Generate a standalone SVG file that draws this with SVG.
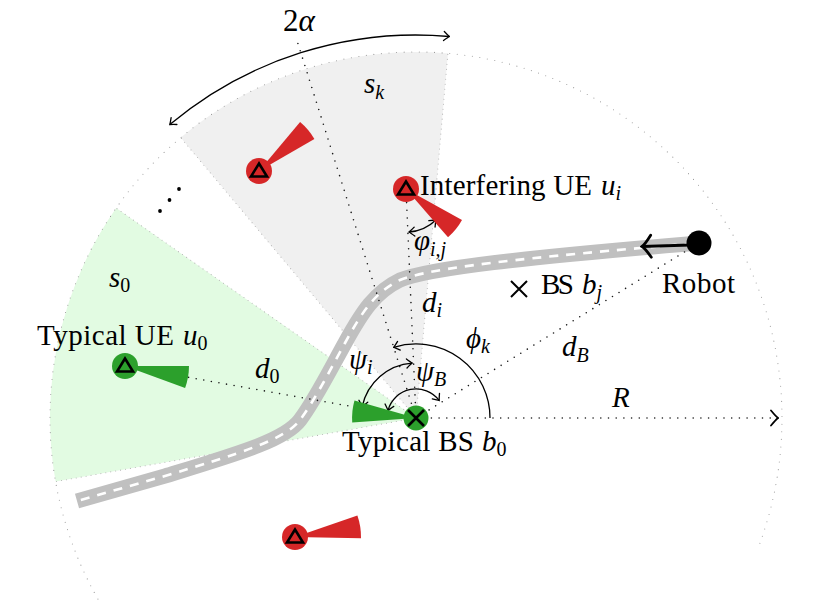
<svg xmlns="http://www.w3.org/2000/svg" width="831" height="603" viewBox="0 0 831 603">
<style>
.t{font-family:"Liberation Serif","DejaVu Serif",serif;font-size:29px;fill:#000}
.m{font-style:italic}
.sub{font-size:20px;font-style:normal}
.subm{font-size:20px;font-style:italic}
.dot{fill:none;stroke:#1a1a1a;stroke-width:1.6;stroke-linecap:round;stroke-dasharray:0 7.7}
.gdot{fill:none;stroke:#9a9a9a;stroke-width:1.1;stroke-linecap:round;stroke-dasharray:0 7.6}
.sdot{fill:none;stroke:#b4b4b4;stroke-width:1.1;stroke-linecap:round;stroke-dasharray:0 5}
.arc{fill:none;stroke:#000;stroke-width:1.3}
.red{fill:#d62728}
.grn{fill:#2ca02c}
.tri{fill:none;stroke:#000;stroke-width:2.6;stroke-linejoin:miter}
.cross{stroke:#000;stroke-width:2.6;stroke-linecap:butt}
</style>
<defs>
<marker id="ah" viewBox="-7 -6 8 12" refX="0" refY="0" markerWidth="8" markerHeight="12" markerUnits="userSpaceOnUse" orient="auto-start-reverse">
<path d="M -5.5 -4.5 Q -1.5 -1 0 0 Q -1.5 1 -5.5 4.5" fill="none" stroke="#000" stroke-width="1.3" stroke-linecap="round"/>
</marker>
<marker id="ahR" viewBox="-9 -9 10 18" refX="0" refY="0" markerWidth="10" markerHeight="18" markerUnits="userSpaceOnUse" orient="auto">
<path d="M -7 -7.5 Q -2 -1.5 0 0 Q -2 1.5 -7 7.5" fill="none" stroke="#000" stroke-width="1.8" stroke-linecap="round"/>
</marker>
<marker id="ahB" viewBox="-12 -13 14 26" refX="0" refY="0" markerWidth="14" markerHeight="26" markerUnits="userSpaceOnUse" orient="auto">
<path d="M -9 -11 Q -3 -2 0 0 Q -3 2 -9 11" fill="none" stroke="#000" stroke-width="2.8" stroke-linecap="round"/>
</marker>
</defs>

<g id="sectors">
<path id="sector-s0" d="M 416 418 L 116.2 208.1 A 366 366 0 0 0 55.6 481.6 Z" fill="#e2fbe2"/>
<path id="sector-sk" d="M 416 418 L 447.9 53.4 A 366 366 0 0 0 180.7 137.6 Z" fill="#f0f0f0"/>
<path class="sdot" d="M 416 418 L 116.2 208.1 M 416 418 L 55.6 481.6 M 416 418 L 447.9 53.4 M 416 418 L 180.7 137.6"/>
<path id="cell-boundary" class="gdot" d="M 759.9 543.2 A 366 366 0 1 0 116.2 627.9"/>
</g>

<g id="road">
<path d="M 77 501 L 165 476 C 240 453 285 440 300 420 C 315 400 330 370 345 343 C 362 312 375 292 400 280 C 430 268 520 258 699 243" fill="none" stroke="#c0c0c0" stroke-width="15"/>
<path d="M 77 501 L 165 476 C 240 453 285 440 300 420 C 315 400 330 370 345 343 C 362 312 375 292 400 280 C 430 268 520 258 699 243" fill="none" stroke="#ffffff" stroke-width="2.6" stroke-dasharray="9 8" stroke-dashoffset="-4"/>
</g>

<g id="connectors">
<path class="dot" d="M 416 418 L 295.7 36.5"/>
<path class="dot" d="M 416 418 L 406 189"/>
<path class="dot" d="M 416 418 L 125 366"/>
<path class="dot" d="M 416 418 L 699 243"/>
<path class="dot" d="M 416 418 L 778 418" marker-end="url(#ahR)"/>
<path class="arc" d="M 169.8 124.6 A 383 383 0 0 1 449.4 36.5" marker-start="url(#ah)" marker-end="url(#ah)"/>
<path class="arc" d="M 490 418 A 74 74 0 0 0 393.7 347.4" marker-end="url(#ah)"/>
<path class="arc" d="M 412.2 363.1 A 55 55 0 0 0 362.2 406.6" marker-start="url(#ah)" marker-end="url(#ah)"/>
<path class="arc" d="M 439.2 400.5 A 29 29 0 0 0 388.0 410.5" marker-start="url(#ah)" marker-end="url(#ah)"/>
<path class="arc" d="M 409 232 A 43 43 0 0 0 435.9 220" marker-start="url(#ah)" marker-end="url(#ah)"/>
</g>

<g id="ue-k">
<path class="red" d="M 259 171 L 300.1 122 A 64 64 0 0 1 314.4 139 Z"/>
<circle class="red" cx="259" cy="171" r="13"/>
<path class="tri" d="M 259 163.5 L 267 176.5 L 251 176.5 Z"/>
</g>

<g id="ue-interfering">
<path class="red" d="M 406 189 L 462 220 A 64 64 0 0 1 448 237.3 Z"/>
<circle class="red" cx="406" cy="189" r="13"/>
<path class="tri" d="M 406 181.5 L 414 194.5 L 398 194.5 Z"/>
</g>

<g id="ue-bottom">
<path class="red" d="M 295 537 L 357.4 515.5 A 66 66 0 0 1 361 538.2 Z"/>
<circle class="red" cx="295" cy="537" r="13"/>
<path class="tri" d="M 295 529.5 L 303 542.5 L 287 542.5 Z"/>
</g>

<g id="ue-typical">
<path class="grn" d="M 125 366 L 189 366 A 64 64 0 0 1 185.1 387.9 Z"/>
<circle class="grn" cx="125" cy="366" r="13"/>
<path class="tri" d="M 125 358.5 L 133 371.5 L 117 371.5 Z"/>
</g>

<g id="bs-typical">
<path class="grn" d="M 416 418 L 352.2 422.5 A 64 64 0 0 1 354.5 400.4 Z"/>
<circle class="grn" cx="416" cy="418" r="12.5"/>
<path class="cross" d="M 408 410 L 424 426 M 424 410 L 408 426"/>
</g>

<g id="bs-j">
<path class="cross" d="M 511 281 L 527 297 M 527 281 L 511 297" style="stroke-width:2"/>
</g>

<g id="robot">
<path d="M 690 245 L 642 246.5" fill="none" stroke="#000" stroke-width="2.8" marker-end="url(#ahB)"/>
<circle cx="699" cy="243" r="12.5" fill="#000"/>
</g>

<g id="ellipsis">
<circle cx="160" cy="211" r="1.9" fill="#000"/>
<circle cx="169.5" cy="200" r="1.9" fill="#000"/>
<circle cx="179" cy="189" r="1.9" fill="#000"/>
</g>

<g id="labels">
<text class="t" x="283" y="31" style="font-size:31px">2<tspan class="m">α</tspan></text>
<text class="t m" x="364" y="93">s<tspan class="subm" dy="6">k</tspan></text>
<text class="t m" x="109" y="287">s<tspan class="sub" dy="5">0</tspan></text>
<text class="t" x="420" y="195" textLength="172" lengthAdjust="spacing">Interfering UE</text>
<text class="t m" x="601" y="195">u<tspan class="subm" dy="5">i</tspan></text>
<text class="t" x="37" y="345" textLength="137" lengthAdjust="spacing">Typical UE</text>
<text class="t m" x="183" y="345">u<tspan class="sub" dy="5">0</tspan></text>
<text class="t" x="342" y="451" textLength="132" lengthAdjust="spacing">Typical BS</text>
<text class="t m" x="482" y="451">b<tspan class="sub" dy="5">0</tspan></text>
<text class="t" x="541" y="294" textLength="33" lengthAdjust="spacing">BS</text>
<text class="t m" x="582" y="294">b<tspan class="subm" dy="5">j</tspan></text>
<text class="t" x="662" y="293" textLength="73" lengthAdjust="spacing">Robot</text>
<text class="t m" x="414" y="250">φ<tspan class="subm" dy="6">i,j</tspan></text>
<text class="t m" x="422" y="312">d<tspan class="subm" dy="5">i</tspan></text>
<text class="t m" x="466" y="348">ϕ<tspan class="subm" dy="5">k</tspan></text>
<text class="t m" x="562" y="356">d<tspan class="subm" dy="6">B</tspan></text>
<text class="t m" x="612" y="407">R</text>
<text class="t m" x="416" y="381">ψ<tspan class="subm" dy="5">B</tspan></text>
<text class="t m" x="349" y="369">ψ<tspan class="subm" dy="5">i</tspan></text>
<text class="t m" x="255" y="378">d<tspan class="sub" dy="5">0</tspan></text>
</g>
</svg>
